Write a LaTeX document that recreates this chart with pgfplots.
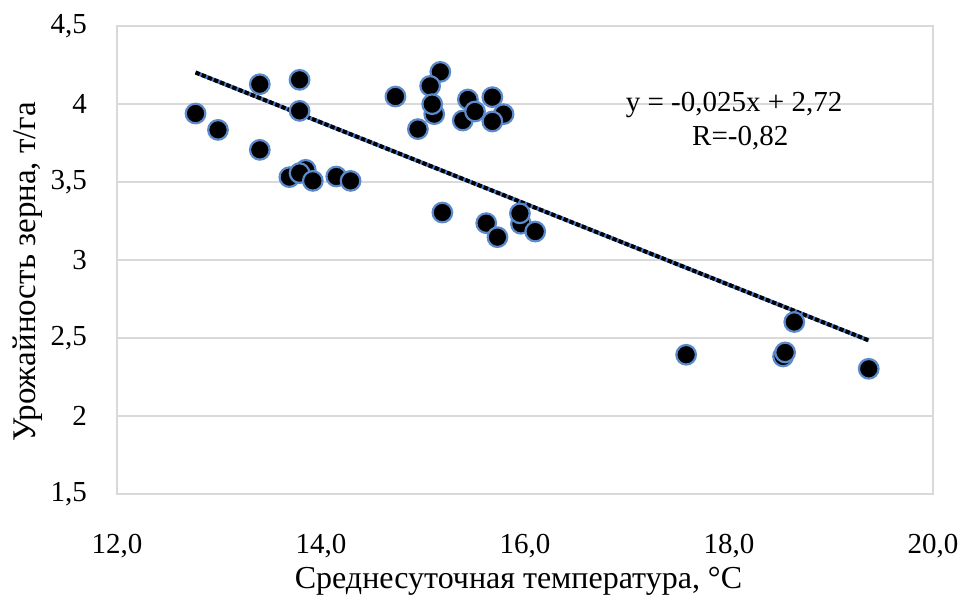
\documentclass[border=0pt]{standalone}
\usepackage{pgfplots}
\pgfplotsset{compat=1.18}
\usepackage{fontspec}
\setmainfont{Liberation Serif}
\definecolor{gridc}{RGB}{217,217,217}
\definecolor{edgec}{RGB}{91,138,204}
\definecolor{trendb}{RGB}{68,114,196}
\begin{document}
\fontsize{14.5pt}{17pt}\selectfont
\begin{tikzpicture}
\path[use as bounding box] (-58.5pt,-50.5pt) rectangle (422.5pt,247pt);
\begin{axis}[
  at={(0,0)}, anchor=south west,
  scale only axis,
  width=408pt, height=233.9pt,
  xmin=12, xmax=20, ymin=1.5, ymax=4.5,
  xtick={12,14,16,18,20},
  xticklabels={{12,0},{14,0},{16,0},{18,0},{20,0}},
  ytick={1.5,2,2.5,3,3.5,4,4.5},
  yticklabels={{1,5},{2},{2,5},{3},{3,5},{4},{4,5}},
  tick style={draw=none},
  axis line style={draw=gridc, line width=0.75pt},
  ymajorgrids, grid style={draw=gridc, line width=0.75pt},
  yticklabel style={anchor=east, xshift=-10pt},
  xticklabel style={anchor=center, yshift=-26pt, inner sep=1pt},
  ticklabel style={font=\fontsize{14.5pt}{17pt}\selectfont},
  xlabel={Среднесуточная температура, °C},
  ylabel={Урожайность зерна, т/га},
  label style={font=\fontsize{16pt}{19pt}\selectfont},
  xlabel style={at={(axis description cs:0.492,-0.186)}, anchor=center, inner sep=1pt},
  ylabel style={at={(axis description cs:-0.110,0.475)}, anchor=center, font=\fontsize{16.5pt}{19pt}\selectfont},
  clip=false,
]
\addplot[draw=trendb, line width=2pt] coordinates {(12.77,4.203) (19.37,2.485)};
\addplot[draw=black, line width=2pt, dash pattern=on 2.2pt off 1.1pt] coordinates {(12.77,4.203) (19.37,2.485)};
\addplot[only marks, mark=*, mark size=4.9pt, mark options={fill=black, draw=edgec, line width=1.1pt}] coordinates {
(12.77,3.94) (12.99,3.835) (13.40,4.128) (13.40,3.707) (13.79,4.156) (13.79,3.957)
(13.69,3.532) (13.85,3.579) (13.79,3.558) (13.92,3.508) (14.15,3.536) (14.29,3.508)
(14.73,4.049) (14.95,3.84) (15.17,4.207) (15.07,4.117) (15.11,3.936) (15.09,4.0)
(15.39,3.895) (15.44,4.03) (15.51,3.953) (15.68,4.045) (15.79,3.936) (15.68,3.889)
(15.19,3.305) (15.62,3.237) (15.73,3.147) (15.96,3.233) (15.95,3.30) (16.10,3.183)
(17.58,2.393) (18.53,2.382) (18.55,2.408) (18.64,2.603) (19.37,2.303)
};
\node[anchor=center] at (axis cs:18.05,3.996) {y = -0,025x + 2,72};
\node[anchor=center] at (axis cs:18.11,3.784) {R=-0,82};
\end{axis}
\end{tikzpicture}
\end{document}
